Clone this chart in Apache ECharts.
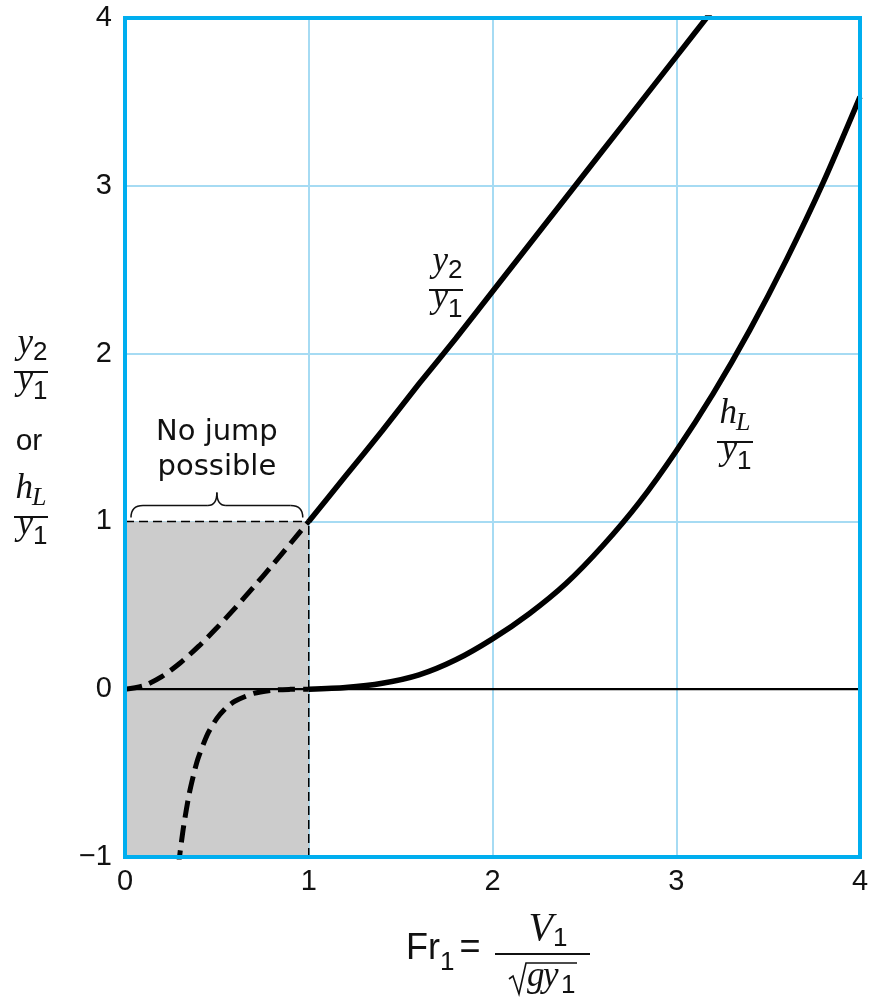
<!DOCTYPE html>
<html><head><meta charset="utf-8">
<script src="https://cdn.jsdelivr.net/npm/echarts@6/dist/echarts.min.js"></script>
<style>html,body{margin:0;padding:0;background:#fff}#c{width:872px;height:997px}</style>
</head><body><div id="c"></div>
<script>
// ---- data ----
const xTicks = [0, 1, 2, 3, 4];
const yTicks = [-1, 0, 1, 2, 3, 4];
// y2/y1, no-jump branch (Fr < 1)
const frDepthSub  = [0, 0.1, 0.2, 0.3, 0.4, 0.5, 0.6, 0.7, 0.8, 0.9, 1.0];
const depthSub    = [0, 0.02, 0.075, 0.156, 0.255, 0.366, 0.485, 0.609, 0.737, 0.868, 1.0];
// y2/y1, jump branch (Fr >= 1)
const frDepthSup  = [1.0, 1.2, 1.4, 1.6, 1.8, 2.0, 2.2, 2.4, 2.6, 2.8, 3.0, 3.2];
const depthSup    = [1.0, 1.27, 1.54, 1.82, 2.09, 2.37, 2.65, 2.93, 3.21, 3.49, 3.77, 4.05];
// hL/y1, no-jump branch
const frLossSub   = [0.29, 0.30, 0.32, 0.35, 0.38, 0.40, 0.45, 0.50, 0.55, 0.60, 0.70, 0.80, 0.90, 1.0];
const lossSub     = [-1.06, -0.97, -0.81, -0.62, -0.48, -0.405, -0.266, -0.174, -0.112, -0.07, -0.025, -0.006, -0.001, 0];
// hL/y1, jump branch
const frLossSup   = [1.0, 1.2, 1.4, 1.6, 1.8, 2.0, 2.2, 2.4, 2.6, 2.8, 3.0, 3.2, 3.4, 3.6, 3.8, 4.0];
const lossSup     = [0, 0.01, 0.035, 0.085, 0.175, 0.30, 0.45, 0.63, 0.855, 1.115, 1.42, 1.76, 2.14, 2.56, 3.02, 3.53];
// shaded "no jump possible" region
const shadeX = [0, 1];
const shadeY = [-1, 1];
const zeroLineX = [0, 4];

const SANS = "'Liberation Sans', Arial, sans-serif";
const WIDE = "'DejaVu Sans', Verdana, sans-serif";
const SERIF = "'Liberation Serif', 'Times New Roman', serif";
const INK = '#111';

const zip = (xs, ys) => xs.map((x, i) => [x, ys[i]]);

const chart = echarts.init(document.getElementById('c'), null, {renderer: 'canvas'});

const option = {
  animation: false,
  backgroundColor: '#fff',
  grid: {left: 125, right: 12, top: 18, bottom: 140, show: false},
  xAxis: {
    type: 'value', min: xTicks[0], max: xTicks[xTicks.length - 1], interval: 1,
    axisLine: {show: false}, axisTick: {show: false},
    axisLabel: {fontSize: 29, fontFamily: SANS, color: INK, margin: 10,
      formatter: v => String(v)},
    splitLine: {show: true, lineStyle: {color: '#A6DBF3', width: 2}}
  },
  yAxis: {
    type: 'value', min: yTicks[0], max: yTicks[yTicks.length - 1], interval: 1,
    axisLine: {show: false}, axisTick: {show: false},
    axisLabel: {fontSize: 29, fontFamily: SANS, color: INK, margin: 13,
      formatter: v => (v < 0 ? '\u2212' + Math.abs(v) : String(v))},
    splitLine: {show: true, lineStyle: {color: '#A6DBF3', width: 2}}
  },
  series: [
    {
      type: 'line', z: 1, data: [], silent: true,
      markArea: {
        silent: true,
        itemStyle: {color: '#CCCCCC', opacity: 1},
        data: [[{coord: [shadeX[0], shadeY[0]]}, {coord: [shadeX[1], shadeY[1]]}]]
      }
    },
    { // zero line
      type: 'line', z: 3, symbol: 'none', silent: true,
      lineStyle: {color: '#000', width: 2.2},
      data: zeroLineX.map(x => [x, 0])
    },
    { // top boundary of shaded region
      type: 'line', z: 3, symbol: 'none', silent: true,
      lineStyle: {color: '#000', width: 1.5, type: [9, 5]},
      data: shadeX.map(x => [x, shadeY[1]])
    },
    { // right boundary of shaded region
      type: 'line', z: 3, symbol: 'none', silent: true,
      lineStyle: {color: '#000', width: 1.5, type: [9, 5]},
      data: shadeY.map(y => [shadeX[1], y])
    },
    {
      type: 'line', z: 5, symbol: 'none', silent: true, smooth: 0.25,
      lineStyle: {color: '#000', width: 5, type: [17, 8]},
      data: zip(frDepthSub, depthSub)
    },
    {
      type: 'line', z: 5, symbol: 'none', silent: true, smooth: 0.25,
      lineStyle: {color: '#000', width: 5.5},
      data: zip(frDepthSup, depthSup)
    },
    {
      type: 'line', z: 5, symbol: 'none', silent: true, smooth: 0.25,
      lineStyle: {color: '#000', width: 5, type: [17, 8]},
      data: zip(frLossSub, lossSub)
    },
    {
      type: 'line', z: 5, symbol: 'none', silent: true, smooth: 0.25,
      lineStyle: {color: '#000', width: 5.5},
      data: zip(frLossSup, lossSup)
    }
  ]
};
chart.setOption(option);

// ---- annotations ----
function T(x, base, str, fs, fam, ital, align) {
  return {
    type: 'text', x: x, y: base - 0.34 * fs, z: 200, silent: true,
    style: {text: str, fontSize: fs, fontFamily: fam, fontStyle: ital ? 'italic' : 'normal',
      fill: INK, align: align, verticalAlign: 'middle', textAlign: align, textVerticalAlign: 'middle'}
  };
}
function L(x1, y1, x2, y2, w) {
  return {type: 'line', z: 200, silent: true, shape: {x1, y1, x2, y2},
    style: {stroke: INK, lineWidth: w || 2}};
}
function Q(x1, y1, cx, cy, x2, y2, w) {
  return {type: 'bezierCurve', z: 200, silent: true,
    shape: {x1, y1, x2, y2, cpx1: cx, cpy1: cy},
    style: {stroke: INK, lineWidth: w || 1.5, fill: 'none'}};
}
// fraction: numerator letter+sub, denominator letter+sub
function frac(cx, barY, halfW, numL, numS, numSubItalic, denL, denS) {
  return [
    L(cx - halfW, barY, cx + halfW, barY, 2),
    T(cx + 2, barY - 16, numL, 35, SERIF, true, 'right'),
    numSubItalic ? T(cx + 1, barY - 10, numS, 26, SERIF, true, 'left')
                 : T(cx + 2, barY - 10, numS, 26, SANS, false, 'left'),
    T(cx + 2, barY + 20, denL, 35, SERIF, true, 'right'),
    T(cx + 2, barY + 29, denS, 26, SANS, false, 'left')
  ];
}

const g = [];
const p00 = chart.convertToPixel({gridIndex: 0}, [xTicks[0], yTicks[yTicks.length - 1]]);
const p11 = chart.convertToPixel({gridIndex: 0}, [xTicks[xTicks.length - 1], yTicks[0]]);
// frame
g.push({type: 'rect', z: 150, silent: true,
  shape: {x: p00[0], y: p00[1], width: p11[0] - p00[0], height: p11[1] - p00[1]},
  style: {fill: 'none', stroke: '#00AEEF', lineWidth: 4}});

// y-axis title
g.push(...frac(31, 372, 17, 'y', '2', false, 'y', '1'));
g.push(T(29, 452, 'or', 30, SANS, false, 'center'));
g.push(...frac(31, 517, 17, 'h', 'L', true, 'y', '1'));
// curve labels
g.push(...frac(446, 290, 17, 'y', '2', false, 'y', '1'));
g.push(...frac(735, 442, 18, 'h', 'L', true, 'y', '1'));

// x-axis title
g.push(T(440, 961, 'Fr', 36, SANS, false, 'right'));
g.push(T(440, 972, '1', 26, SANS, false, 'left'));
g.push(T(470, 960, '=', 36, SANS, false, 'center'));
g.push(L(495, 954, 590, 954, 2));
g.push(T(553, 943, 'V', 40, SERIF, true, 'right'));
g.push(T(553, 948, '1', 26, SANS, false, 'left'));
g.push({type: 'polyline', z: 200, silent: true,
  shape: {points: [[509, 979], [513, 976], [519, 994], [526, 963], [577, 963]]},
  style: {stroke: INK, lineWidth: 1.6, fill: 'none'}});
g.push(T(527, 989, 'g', 35, SERIF, true, 'left'));
g.push(T(543, 989, 'y', 35, SERIF, true, 'left'));
g.push(T(561, 995, '1', 26, SANS, false, 'left'));

// "No jump possible" + brace
const bl = chart.convertToPixel({gridIndex: 0}, [shadeX[0], shadeY[1]]);
const br = chart.convertToPixel({gridIndex: 0}, [shadeX[1], shadeY[1]]);
const xl = bl[0] + 6, xr = br[0] - 6, xc = (bl[0] + br[0]) / 2;
const yb = bl[1] - 4, yh = bl[1] - 16, yt = bl[1] - 29;
g.push(Q(xl, yb, xl, yh, xl + 12, yh));
g.push(L(xl + 12, yh, xc - 9, yh, 1.5));
g.push(Q(xc - 9, yh, xc, yh, xc, yt));
g.push(Q(xc, yt, xc, yh, xc + 9, yh));
g.push(L(xc + 9, yh, xr - 12, yh, 1.5));
g.push(Q(xr - 12, yh, xr, yh, xr, yb));
g.push(T(xc, 442, 'No jump', 29, WIDE, false, 'center'));
g.push(T(xc, 477, 'possible', 29, WIDE, false, 'center'));

chart.setOption({graphic: {elements: g}});
</script>
</body></html>
